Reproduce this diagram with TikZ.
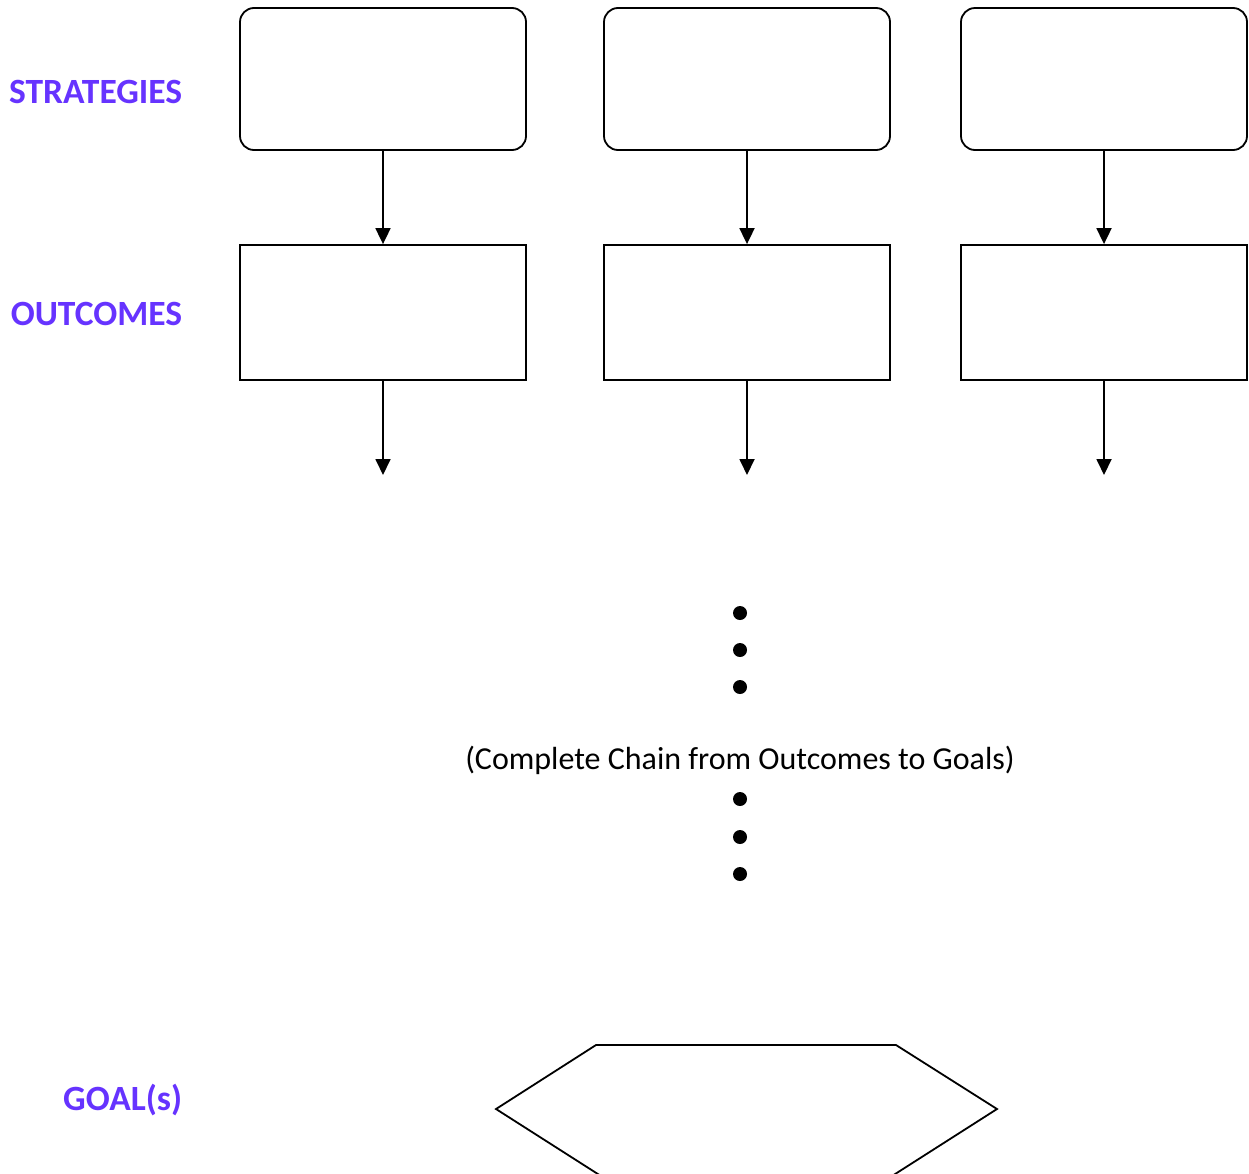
\documentclass[tikz,border=0pt]{standalone}
\usepackage{fontspec}
\setmainfont{Carlito}
\usetikzlibrary{arrows.meta}
\definecolor{labelpurple}{HTML}{6633FF}
\begin{document}
\begin{tikzpicture}[x=1pt,y=-1pt,
  line width=1.8pt,
  stratbox/.style={draw,rounded corners=14pt,minimum width=286pt,minimum height=142pt,inner sep=0pt},
  outbox/.style={draw,minimum width=286pt,minimum height=135pt,inner sep=0pt},
  arr/.style={-{Triangle[width=15pt,length=16pt]}},
  rowlabel/.style={font=\fontsize{35.5}{40}\selectfont\bfseries,text=labelpurple,anchor=east,inner sep=0pt},
  dot/.style={circle,fill=black,minimum size=14pt,inner sep=0pt}]
\useasboundingbox (0,0) rectangle (1249,1173);
\clip (0,0) rectangle (1249,1173);
% labels
\node[rowlabel] (lstrat) at (183,92) {STRATEGIES};
\node[rowlabel] (lout) at (183,314) {OUTCOMES};
\node[rowlabel] (lgoal) at (183,1100) {GOAL(s)};
% strategy boxes
\node[stratbox] (s1) at (383,79) {};
\node[stratbox] (s2) at (747,79) {};
\node[stratbox] (s3) at (1104,79) {};
% outcome boxes
\node[outbox] (o1) at (383,312.5) {};
\node[outbox] (o2) at (747,312.5) {};
\node[outbox] (o3) at (1104,312.5) {};
% free ends
\coordinate (e1) at (383,475);
\coordinate (e2) at (747,475);
\coordinate (e3) at (1104,475);
% arrows
\draw[arr] (s1.south) -- (o1.north);
\draw[arr] (s2.south) -- (o2.north);
\draw[arr] (s3.south) -- (o3.north);
\draw[arr] (o1.south) -- (e1);
\draw[arr] (o2.south) -- (e2);
\draw[arr] (o3.south) -- (e3);
% dots
\node[dot] (d1) at (740,613) {};
\node[dot] (d2) at (740,650) {};
\node[dot] (d3) at (740,687) {};
\node[font=\fontsize{32}{38}\selectfont,inner sep=0pt] (chain) at (740,760) {(Complete Chain from Outcomes to Goals)};
\node[dot] (d4) at (740,799) {};
\node[dot] (d5) at (740,837) {};
\node[dot] (d6) at (740,874) {};
% goal hexagon
\draw[line join=miter] (596,1045) -- (896,1045) -- (997,1109) -- (892,1176) -- (601,1176) -- (496,1109) -- cycle;
\end{tikzpicture}
\end{document}
